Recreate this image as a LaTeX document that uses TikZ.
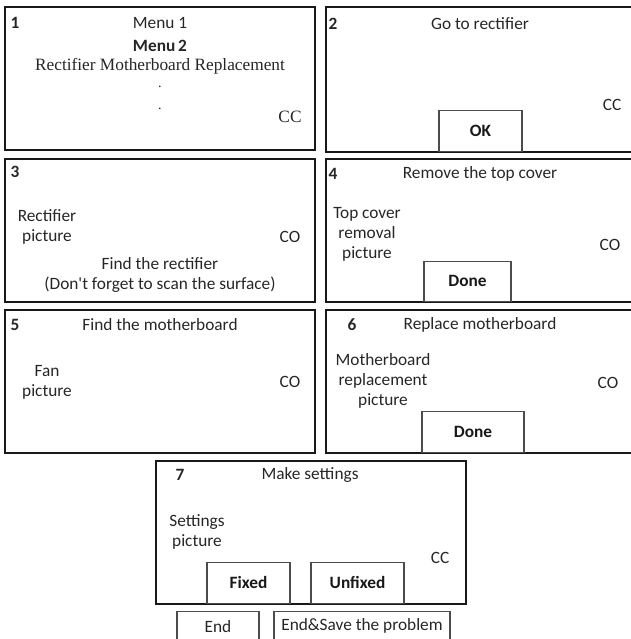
\documentclass[tikz,border=0pt]{standalone}
\usepackage{fontspec}
\setmainfont{Carlito}
\newfontfamily\serifface{Liberation Serif}
\usepackage{tikz}

\begin{document}
\begin{tikzpicture}[
        x=0.025cm, y=-0.025cm,
        font=\fontsize{12.3}{14.2}\selectfont,
        screen/.style={draw=black!90, line width=1.4pt},
        txt/.style={inner sep=0pt, align=center, text=black!85},
        num/.style={txt, font=\fontsize{12.3}{14.2}\selectfont\bfseries},
        btn/.style={draw=black!70, line width=0.8pt, fill=white, inner sep=0pt, text=black!90,
                    minimum height=1.025cm, font=\fontsize{12.3}{14.2}\selectfont\bfseries},
        endbtn/.style={draw=black!70, line width=0.8pt, inner sep=0pt, text=black!85,
                    minimum height=0.725cm}
    ]
    \path[use as bounding box, clip] (0,0) rectangle (631,639);

    % Screen 1
    \begin{scope}[shift={(5,7)}]
        \draw[screen] (0,0) rectangle (310,143);
        \node[num] (n1) at (10,16) {1};
        \node[txt] (menua) at (155,16) {Menu 1};
        \node[txt, font=\fontsize{12.3}{14.2}\selectfont\bfseries] (menub) at (155,39) {Menu\,2};
        \node[txt, font=\fontsize{12.3}{14.2}\selectfont\serifface] (rmr) at (155,59) {Rectifier Motherboard Replacement};
        \node[txt, font=\serifface] (dota) at (155,80) {.};
        \node[txt, font=\serifface] (dotb) at (155,102) {.};
        \node[txt, font=\fontsize{12.3}{14.2}\selectfont\serifface] (cc1) at (285,110) {CC};
    \end{scope}

    % Screen 2
    \begin{scope}[shift={(326,7)}]
        \draw[screen] (0,0) rectangle (320,145);
        \node[num] (n2) at (7,17) {2};
        \node[txt] (goto) at (154,17) {Go to rectifier};
        \node[txt] (cc2) at (286,98) {CC};
        \node[btn, minimum width=2.075cm, anchor=south] (ok) at (154.5,145) {OK};
    \end{scope}

    % Screen 3
    \begin{scope}[shift={(5,159)}]
        \draw[screen] (0,0) rectangle (310,143);
        \node[num] (n3) at (10,13) {3};
        \node[txt] (rpic) at (42,68) {Rectifier\\picture};
        \node[txt] (co3) at (285,78) {CO};
        \node[txt] (find) at (155,116) {Find the rectifier\\(Don\textquotesingle t forget to scan the surface)};
    \end{scope}

    % Screen 4
    \begin{scope}[shift={(326,159)}]
        \draw[screen] (0,0) rectangle (320,143);
        \node[num] (n4) at (7,15) {4};
        \node[txt] (remove) at (154,15) {Remove the top cover};
        \node[txt] (tpic) at (41,75) {Top cover\\removal\\picture};
        \node[txt] (co4) at (284,86) {CO};
        \node[btn, minimum width=2.175cm, minimum height=1cm, anchor=south] (done4) at (141.5,143) {Done};
    \end{scope}

    % Screen 5
    \begin{scope}[shift={(5,310)}]
        \draw[screen] (0,0) rectangle (310,143);
        \node[num] (n5) at (10,15) {5};
        \node[txt] (findmb) at (155,15) {Find the motherboard};
        \node[txt] (fpic) at (42,72) {Fan\\picture};
        \node[txt] (co5) at (285,72) {CO};
    \end{scope}

    % Screen 6
    \begin{scope}[shift={(326,310)}]
        \draw[screen] (0,0) rectangle (320,143);
        \node[num] (n6) at (26,15) {6};
        \node[txt] (replace) at (154,15) {Replace motherboard};
        \node[txt] (mpic) at (57,71) {Motherboard\\replacement\\picture};
        \node[txt] (co6) at (282,73) {CO};
        \node[btn, minimum width=2.55cm, anchor=south] (done6) at (147,143) {Done};
    \end{scope}

    % Screen 7
    \begin{scope}[shift={(156,461)}]
        \draw[screen] (0,0) rectangle (310,143);
        \node[num] (n7) at (24,14) {7};
        \node[txt] (make) at (154,14) {Make settings};
        \node[txt] (spic) at (41,71) {Settings\\picture};
        \node[txt] (cc7) at (284,97) {CC};
        \node[btn, minimum width=2.075cm, anchor=south] (fixed) at (92.5,143) {Fixed};
        \node[btn, minimum width=2.325cm, anchor=south] (unfixed) at (201.5,143) {Unfixed};
    \end{scope}

    % End buttons
    \node[endbtn, minimum width=2.05cm, anchor=north] (end) at (218,611) {End};
    \node[endbtn, minimum width=4.4cm, anchor=north] (endsave) at (362,611) {End\&Save the problem};

\end{tikzpicture}
\end{document}
